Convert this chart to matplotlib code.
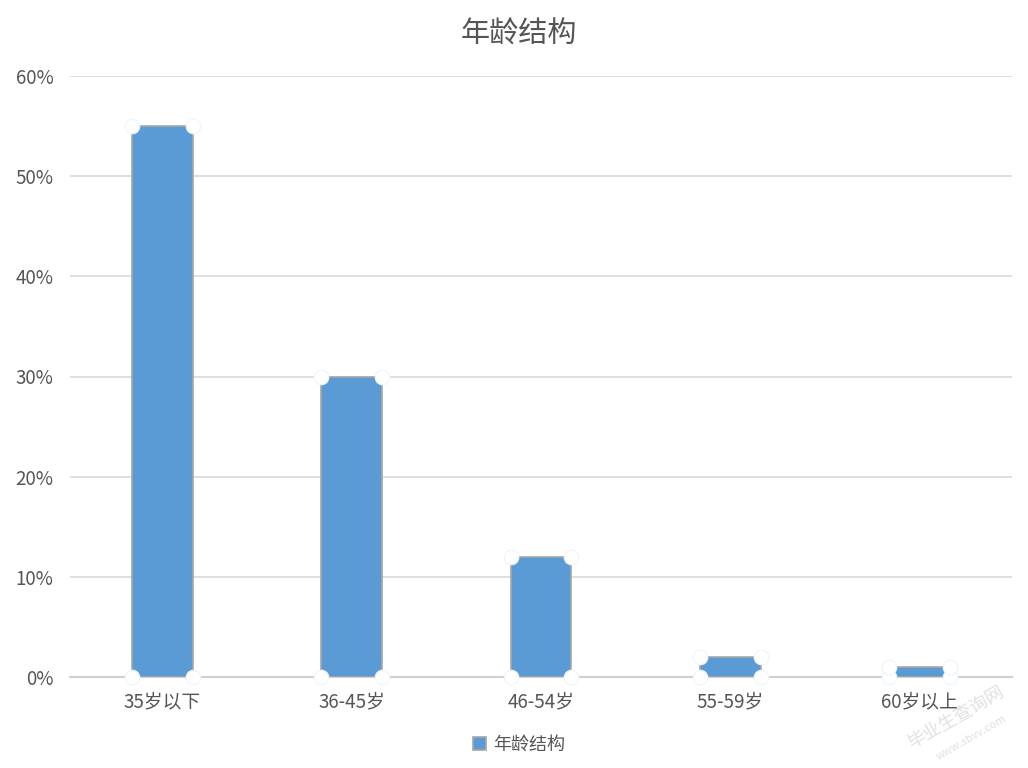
import matplotlib
matplotlib.use("Agg")
import matplotlib.pyplot as plt
from matplotlib.ticker import FuncFormatter

plt.rcParams["font.family"] = ["Noto Sans CJK SC", "DejaVu Sans"]

categories = ["35岁以下", "36-45岁", "46-54岁", "55-59岁", "60岁以上"]
values = [55, 30, 12, 2, 1]
series_name = "年龄结构"

fig = plt.figure(figsize=(10.28, 7.68), dpi=100)
ax = fig.add_axes([70 / 1028, 91 / 768, 942 / 1028, 601 / 768])

x = list(range(len(categories)))
w = 0.32
ax.bar(x, values, width=w, color="#5b9bd5", edgecolor="#a6a6a6", linewidth=1.2,
       label=series_name, zorder=3)

# white handles at bar corners
cx, cy = [], []
for xi, v in zip(x, values):
    for dx in (-w / 2, w / 2):
        cx += [xi + dx, xi + dx]
        cy += [0, v]
ax.scatter(cx, cy, s=110, facecolor="white", edgecolor="#eef4fb", linewidth=0.8,
           zorder=4, clip_on=False)

ax.set_xlim(-0.487, 4.487)
ax.set_ylim(0, 60)
ax.set_yticks(range(0, 61, 10))
ax.yaxis.set_major_formatter(FuncFormatter(lambda v, p: f"{v:.0f}%"))
ax.set_xticks(x)
ax.set_xticklabels(categories)
ax.tick_params(length=0, labelsize=13.5, colors="#555555")
ax.tick_params(axis="x", pad=10)
ax.tick_params(axis="y", pad=12)
ax.grid(axis="y", color="#d9d9d9", linewidth=1.2, zorder=0)
for s in ["top", "right", "left"]:
    ax.spines[s].set_visible(False)
ax.spines["bottom"].set_color("#d0d0d0")
ax.spines["bottom"].set_linewidth(1.5)

fig.text(0.505, 0.955, "年龄结构", ha="center", va="center", fontsize=21, color="#555555")

fig.legend(loc="center", bbox_to_anchor=(0.505, 0.03), frameon=False, fontsize=13,
           handlelength=0.7, handleheight=0.7, handletextpad=0.4, labelcolor="#555555")

# faint watermark
fig.text(0.93, 0.065, "毕业生查询网", rotation=30, ha="center", va="center",
         fontsize=13, color="#cccccc", alpha=0.6)
fig.text(0.945, 0.04, "www.sbvv.com", rotation=30, ha="center", va="center",
         fontsize=8, color="#cccccc", alpha=0.6)

fig.savefig("out.png", dpi=100)
